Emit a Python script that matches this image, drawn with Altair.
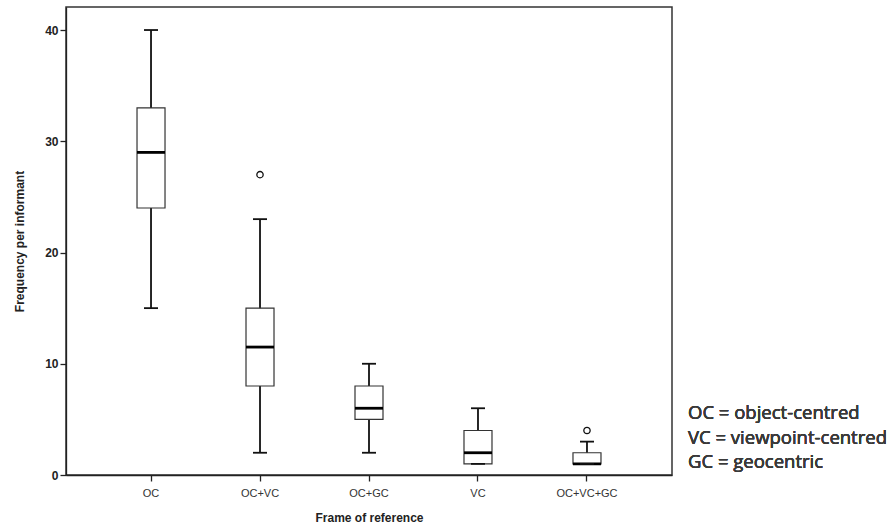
import altair as alt
import pandas as pd

categories = ["OC", "OC+VC", "OC+GC", "VC", "OC+VC+GC"]
whisker_low = [15, 2, 2, 1, 1]
q1 = [24, 8, 5, 1, 1]
median = [29, 11.5, 6, 2, 1]
q3 = [33, 15, 8, 4, 2]
whisker_high = [40, 23, 10, 6, 3]
outlier_cat = ["OC+VC", "OC+VC+GC"]
outlier_val = [27, 4]
legend_lines = ["OC = object-centred", "VC = viewpoint-centred", "GC = geocentric"]

df = pd.DataFrame({
    "cat": categories, "low": whisker_low, "q1": q1, "med": median,
    "q3": q3, "high": whisker_high,
})
out_df = pd.DataFrame({"cat": outlier_cat, "val": outlier_val})

xscale = alt.Scale(domain=categories, paddingInner=0, paddingOuter=0.28)
yscale = alt.Scale(domain=[0, 42.07], nice=False, zero=False)

x = alt.X("cat:N", scale=xscale, sort=categories,
          axis=alt.Axis(title="Frame of reference", labelAngle=0, labelFontSize=11,
                        labelColor="#333", labelFont="Liberation Sans", labelPadding=6,
                        tickSize=6, tickColor="#222", domainColor="#222",
                        titleFontSize=12, titleFont="Liberation Sans", titleFontWeight="bold",
                        titleColor="#222", titlePadding=14))
yaxis = alt.Axis(title="Frequency per informant", values=[0, 10, 20, 30, 40], grid=False,
                 labelFontSize=12, labelColor="#222", labelFont="Liberation Sans",
                 labelFontWeight="bold", tickSize=6, tickColor="#222", domainColor="#222",
                 titleFontSize=12, titleFont="Liberation Sans", titleFontWeight="bold",
                 titleColor="#222", titlePadding=18)

base = alt.Chart(df)

rule = base.mark_rule(color="#111", strokeWidth=1.8).encode(
    x=x, y=alt.Y("low:Q", scale=yscale, axis=yaxis), y2="high:Q")
box = base.mark_bar(fill="white", stroke="#333", strokeWidth=1.2, size=28).encode(
    x=x, y=alt.Y("q1:Q", scale=yscale), y2="q3:Q")
med = base.mark_tick(color="#000", thickness=2.8, size=28, opacity=1).encode(
    x=x, y=alt.Y("med:Q", scale=yscale))
cap_low = base.mark_tick(color="#111", thickness=1.8, size=14, opacity=1).encode(
    x=x, y=alt.Y("low:Q", scale=yscale))
cap_high = base.mark_tick(color="#111", thickness=1.8, size=14, opacity=1).encode(
    x=x, y=alt.Y("high:Q", scale=yscale))
outl = alt.Chart(out_df).mark_point(shape="circle", filled=False, color="#111",
                                    size=40, strokeWidth=1.3, opacity=1).encode(
    x=x, y=alt.Y("val:Q", scale=yscale))

legend_layers = []
for i, line in enumerate(legend_lines):
    legend_layers.append(
        alt.Chart(df).mark_text(align="left", baseline="middle", fontSize=18.5,
                                font="Open Sans", fontWeight=400, color="#3a3a3a",
                                text=line).encode(
            x=alt.value(622), y=alt.value(406 + 24.5 * i))
    )

chart = alt.layer(rule, box, med, cap_low, cap_high, outl, *legend_layers).properties(
    width=606, height=468,
    autosize=alt.AutoSizeParams(type="none"),
    padding={"left": 66, "top": 7, "right": 223, "bottom": 56},
    background="white",
).configure_view(stroke="#333", strokeWidth=1.5).configure_axis(domainWidth=1.3, tickWidth=1.3)

chart.save("out.html", embed_options={"renderer": "svg", "actions": False})
